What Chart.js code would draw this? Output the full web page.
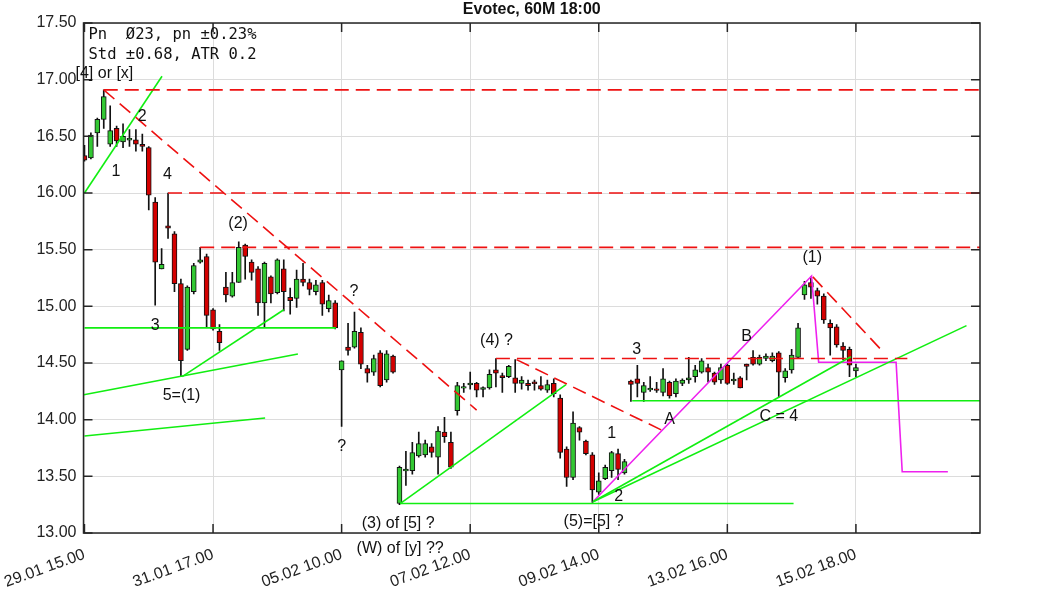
<!DOCTYPE html>
<html>
<head>
<meta charset="utf-8">
<script src="https://cdn.jsdelivr.net/npm/chart.js@4.4.1/dist/chart.umd.min.js"></script>
<style>
  html, body { margin: 0; padding: 0; background: #fff; }
  #wrap { width: 1063px; height: 591px; }
</style>
</head>
<body>
<div id="wrap"><canvas id="c"></canvas></div>
<script>
// === データ（60分足） ===
const xTickIdx = [0, 20, 40, 60, 80, 100, 120];
const xLabels = ["29.01 15.00", "31.01 17.00", "05.02 10.00", "07.02 12.00", "09.02 14.00", "13.02 16.00", "15.02 18.00"];

const opens = [16.33,16.31,16.53,16.65,16.43,16.57,16.45,16.47,16.47,16.43,
  16.40,15.92,15.33,15.71,15.64,15.20,14.62,15.13,15.39,15.44,
  14.97,14.78,15.17,15.09,15.21,15.54,15.39,15.33,15.03,15.26,
  15.12,15.33,15.08,15.07,15.24,15.21,15.13,15.21,14.98,15.03,
  14.44,14.64,14.64,14.77,14.45,14.42,14.59,14.35,14.56,13.26,
  13.55,13.55,13.68,13.69,13.76,13.67,13.89,13.80,14.08,14.28,
  14.31,14.32,14.27,14.28,14.44,14.39,14.38,14.37,14.32,14.32,
  14.33,14.30,14.26,14.32,14.19,13.74,13.49,13.93,13.81,13.69,
  13.36,13.48,13.55,13.70,13.53,14.34,14.36,14.24,14.27,14.27,
  14.24,14.33,14.23,14.32,14.35,14.38,14.42,14.46,14.41,14.35,
  14.48,14.35,14.37,14.49,14.55,14.49,14.54,14.52,14.59,14.37,
  14.44,14.55,15.10,15.21,15.14,15.09,14.85,14.82,14.65,14.62,
  14.43];
const highs = [16.42,16.53,16.66,16.91,16.77,16.59,16.61,16.56,16.56,16.52,
  16.41,15.96,15.51,16.00,15.66,15.24,15.18,15.38,15.52,15.46,
  14.98,14.84,15.30,15.30,15.57,15.55,15.41,15.35,15.39,15.27,
  15.42,15.41,15.16,15.32,15.38,15.24,15.23,15.23,15.10,15.05,
  14.52,14.85,14.95,14.81,14.48,14.57,14.61,14.61,14.57,13.59,
  13.72,13.80,13.89,13.82,13.79,13.94,14.02,13.89,14.33,14.32,
  14.42,14.33,14.29,14.44,14.54,14.41,14.48,14.53,14.38,14.35,
  14.35,14.38,14.35,14.36,14.22,13.76,14.07,13.94,13.82,13.71,
  13.53,13.60,13.72,13.74,13.65,14.35,14.48,14.33,14.38,14.33,
  14.45,14.34,14.36,14.36,14.55,14.48,14.54,14.49,14.42,14.49,
  14.49,14.41,14.38,14.49,14.61,14.57,14.58,14.59,14.60,14.45,
  14.62,14.85,15.22,15.26,15.16,15.11,14.88,14.84,14.68,14.64,
  14.49];
const lows = [16.28,16.30,16.41,16.57,16.41,16.41,16.40,16.41,16.37,16.37,
  15.85,15.01,15.33,15.60,15.13,14.38,14.61,15.11,15.38,14.82,
  14.79,14.61,15.04,15.08,15.21,15.24,15.23,14.92,14.82,15.03,
  15.11,14.96,14.93,14.99,15.18,15.10,15.10,14.92,14.95,14.80,
  13.94,14.57,14.63,14.45,14.33,14.39,14.29,14.33,14.41,13.25,
  13.42,13.52,13.67,13.67,13.67,13.52,13.80,13.57,14.04,14.24,
  14.27,14.20,14.20,14.27,14.29,14.24,14.37,14.24,14.27,14.26,
  14.26,14.26,14.24,14.20,13.66,13.41,13.47,13.82,13.69,13.27,
  13.34,13.47,13.49,13.47,13.52,14.16,14.20,14.16,14.25,14.24,
  14.21,14.19,14.20,14.30,14.32,14.33,14.41,14.33,14.31,14.32,
  14.31,14.31,14.28,14.35,14.48,14.48,14.52,14.51,14.20,14.33,
  14.41,14.54,15.06,15.07,15.02,14.85,14.57,14.64,14.53,14.38,
  14.38];
const closes = [16.29,16.51,16.65,16.85,16.55,16.46,16.50,16.48,16.43,16.41,
  15.98,15.39,15.37,15.69,15.20,14.52,15.17,15.36,15.41,14.92,
  14.80,14.68,15.10,15.21,15.52,15.44,15.30,15.03,15.38,15.11,
  15.41,15.13,15.05,15.24,15.21,15.15,15.19,15.02,15.05,14.81,
  14.52,14.61,14.78,14.49,14.41,14.54,14.30,14.58,14.42,13.58,
  13.56,13.71,13.79,13.79,13.71,13.90,13.85,13.58,14.30,14.29,
  14.32,14.26,14.28,14.40,14.41,14.37,14.47,14.32,14.35,14.30,
  14.32,14.27,14.31,14.23,13.71,13.49,13.97,13.89,13.70,13.38,
  13.46,13.58,13.71,13.56,13.63,14.31,14.32,14.30,14.27,14.26,
  14.36,14.21,14.34,14.35,14.37,14.44,14.52,14.42,14.33,14.46,
  14.32,14.35,14.28,14.47,14.49,14.55,14.56,14.56,14.42,14.43,
  14.57,14.81,15.19,15.17,15.09,14.88,14.81,14.66,14.61,14.48,
  14.46];

// 補助線（[バー番号, 価格]）
const redLines = [
  [[3, 16.91], [139.3, 16.91]],
  [[3, 16.91], [61.0, 14.085]],
  [[13, 16.00], [139.3, 16.00]],
  [[18, 15.52], [139.3, 15.52]],
  [[64, 14.54], [128.0, 14.54]],
  [[67.2, 14.53], [89.7, 13.91]],
  [[113.3, 15.26], [124.2, 14.60]]
];
const greenLines = [
  [[0, 16.00], [12.06, 17.03]],
  [[0, 14.81], [39.1, 14.81]],
  [[15.2, 14.38], [31.0, 14.97]],
  [[-0.1, 14.22], [33.2, 14.58]],
  [[0, 13.856], [28.1, 14.015]],
  [[49.1, 13.26], [74.9, 14.31]],
  [[49.1, 13.26], [110.3, 13.26]],
  [[85.2, 14.167], [139.3, 14.167]],
  [[79.1, 13.276], [137.2, 14.83]],
  [[79.1, 13.276], [119.2, 14.555]]
];
const magentaLines = [
  [[79.1, 13.276], [113.1, 15.268], [114.2, 14.506], [126.25, 14.506], [127.2, 13.541], [134.3, 13.541]]
];

// 波動ラベル
const waveLabels = [
  ["[4] or [x]", 3.1, 17.05], ["2", 9.0, 16.67], ["1", 4.9, 16.19], ["4", 12.9, 16.16],
  ["(2)", 23.9, 15.73], ["3", 11.0, 14.83], ["5=(1)", 15.1, 14.21],
  ["?", 41.9, 15.13], ["?", 40.0, 13.76], ["(3) of [5] ?", 48.8, 13.08], ["(W) of [y] ??", 49.1, 12.86],
  ["(4) ?", 64.1, 14.70], ["1", 82.0, 13.88], ["2", 83.1, 13.32], ["(5)=[5] ?", 79.2, 13.10],
  ["3", 85.9, 14.62], ["A", 91.0, 14.00], ["B", 103.0, 14.73], ["C = 4", 108.0, 14.03], ["(1)", 113.2, 15.43]
];
const infoLines = ["Pn  \u00d823, pn \u00b10.23%", "Std \u00b10.68, ATR 0.2"];
const title = "Evotec, 60M 18:00";

// === データセット作成 ===
const UP = "#33c833", DOWN = "#d40000";
const wicks = opens.map((o, i) => ({ x: i, y: [lows[i], highs[i]] }));
const bodies = opens.map((o, i) => {
  let lo = Math.min(o, closes[i]), hi = Math.max(o, closes[i]);
  if (hi - lo < 0.015) { const m = (hi + lo) / 2; lo = m - 0.008; hi = m + 0.008; }
  return { x: i, y: [lo, hi] };
});
const bodyColors = opens.map((o, i) => closes[i] >= o ? UP : DOWN);

const lineSet = (pts, color, dash) => ({
  type: "line",
  data: pts.map(p => ({ x: p[0], y: p[1] })),
  borderColor: color, borderWidth: 1.6, borderDash: dash || [],
  pointRadius: 0, fill: false, tension: 0, order: 1
});

const datasets = [
  { type: "bar", data: wicks, backgroundColor: "#111", barThickness: 1, grouped: false, order: 3 },
  { type: "bar", data: bodies, backgroundColor: bodyColors, borderColor: "#111", borderWidth: 1,
    borderSkipped: false, barThickness: 5, grouped: false, order: 2 },
  ...redLines.map(l => lineSet(l, "#ee1111", [14, 7])),
  ...greenLines.map(l => lineSet(l, "#11ee11")),
  ...magentaLines.map(l => lineSet(l, "#ee22ee"))
];

// === 枠・目盛り・文字 ===
const frame = {
  id: "frame",
  afterDraw(chart) {
    const { ctx, chartArea: a, scales: { x, y } } = chart;
    ctx.save();
    ctx.strokeStyle = "#262626";
    ctx.lineWidth = 1.5;
    ctx.strokeRect(a.left, a.top, a.right - a.left, a.bottom - a.top);
    ctx.beginPath();
    xTickIdx.forEach(v => {
      const px = x.getPixelForValue(v);
      ctx.moveTo(px, a.bottom); ctx.lineTo(px, a.bottom - 9);
      ctx.moveTo(px, a.top); ctx.lineTo(px, a.top + 9);
    });
    y.ticks.forEach(t => {
      const py = y.getPixelForValue(t.value);
      ctx.moveTo(a.left, py); ctx.lineTo(a.left + 9, py);
      ctx.moveTo(a.right, py); ctx.lineTo(a.right - 9, py);
    });
    ctx.stroke();

    // タイトル
    ctx.fillStyle = "#111";
    ctx.font = "bold 16px 'Liberation Sans', Arial, sans-serif";
    ctx.textAlign = "center";
    ctx.textBaseline = "middle";
    ctx.fillText(title, (a.left + a.right) / 2, 10);

    // 情報テキスト
    ctx.font = "15.5px 'DejaVu Sans Mono', monospace";
    ctx.textAlign = "left";
    ctx.textBaseline = "alphabetic";
    infoLines.forEach((s, i) => ctx.fillText(s, a.left + 5, a.top + 16 + i * 20));

    // 波動ラベル
    ctx.font = "16px 'Liberation Sans', Arial, sans-serif";
    ctx.textAlign = "center";
    ctx.textBaseline = "middle";
    waveLabels.forEach(([s, xi, p]) => ctx.fillText(s, x.getPixelForValue(xi), y.getPixelForValue(p)));
    ctx.restore();
  }
};

new Chart(document.getElementById("c"), {
  data: { datasets },
  options: {
    responsive: true,
    maintainAspectRatio: false,
    animation: false,
    layout: { autoPadding: false, padding: { top: 23, right: 83, left: 0, bottom: 0 } },
    plugins: { legend: { display: false }, tooltip: { enabled: false }, title: { display: false } },
    scales: {
      x: {
        type: "linear", min: -0.15, max: 139.3, offset: false,
        afterBuildTicks: s => { s.ticks = xTickIdx.map(v => ({ value: v })); },
        afterFit: s => { s.height = 58; s.paddingLeft = 0; s.paddingRight = 0; },
        ticks: {
          callback: (v) => xLabels[xTickIdx.indexOf(v)],
          autoSkip: false, minRotation: 20, maxRotation: 20, padding: 12,
          color: "#222", font: { size: 16, family: "'Liberation Sans', Arial, sans-serif" }
        },
        grid: { color: "#dcdcdc", drawTicks: false, offset: false },
        border: { display: false }
      },
      y: {
        min: 13, max: 17.5,
        afterFit: s => { s.width = 83.5; s.paddingTop = 0; s.paddingBottom = 0; },
        ticks: {
          stepSize: 0.5, callback: v => v.toFixed(2), padding: 7,
          color: "#222", font: { size: 16, family: "'Liberation Sans', Arial, sans-serif" }
        },
        grid: { color: "#dcdcdc", drawTicks: false },
        border: { display: false }
      }
    }
  },
  plugins: [frame]
});
</script>
</body>
</html>
